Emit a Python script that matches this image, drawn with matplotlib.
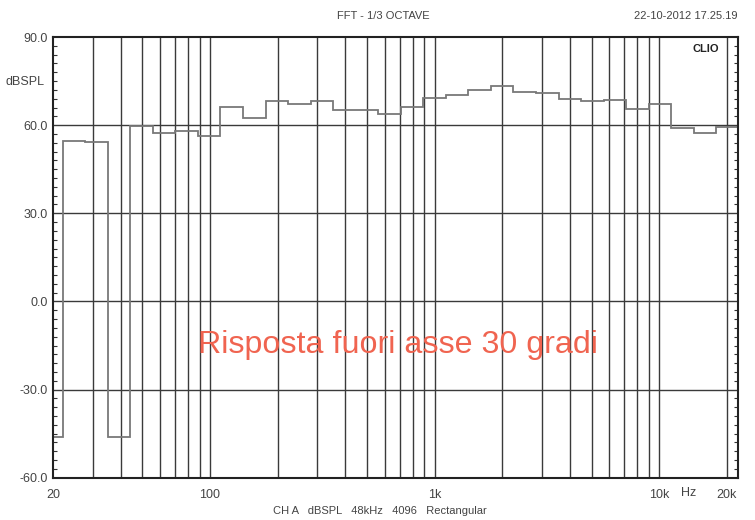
import numpy as np
import matplotlib
matplotlib.use("Agg")
import matplotlib.pyplot as plt

# 1/3 octave band centres (Hz) and levels (dBSPL)
centers = [20, 25, 31.5, 40, 50, 63, 80, 100, 125, 160, 200, 250, 315, 400, 500,
           630, 800, 1000, 1250, 1600, 2000, 2500, 3150, 4000, 5000, 6300, 8000,
           10000, 12500, 16000, 20000]
levels = [-46.0, 54.6, 54.2, -46.0, 59.8, 57.4, 57.9, 56.3, 66.2, 62.6, 68.2, 67.3,
          68.2, 65.0, 65.3, 63.8, 66.2, 69.1, 70.1, 71.9, 73.5, 71.3, 70.9, 69.0,
          68.2, 68.6, 65.4, 67.1, 59.0, 57.4, 59.4]

y_ticks = [-60, -30, 0, 30, 60, 90]
x_label_ticks = [20, 100, 1000, 10000, 20000]
x_label_text = ["20", "100", "1k", "10k", "20k"]

# band edges from the exact third-octave centres
n = np.round(3 * np.log2(np.array(centers) / 1000.0))
fc = 1000.0 * 2 ** (n / 3)
edges = np.concatenate([fc * 2 ** (-1 / 6), [fc[-1] * 2 ** (1 / 6)]])

plt.rcParams["font.family"] = ["Liberation Sans", "DejaVu Sans"]

fig = plt.figure(figsize=(7.55, 5.2), dpi=100)
ax = fig.add_axes([0.0702, 0.0813, 0.9073, 0.8475])

# grid
grid_x = [m * 10 ** d for d in range(1, 5) for m in range(1, 10)]
grid_x = [g for g in grid_x if 20 < g <= 20000]
for g in grid_x:
    ax.axvline(g, color="#3a3a3a", lw=1.0, zorder=1)
for yv in y_ticks[1:-1]:
    ax.axhline(yv, color="#3a3a3a", lw=1.0, zorder=1)

ax.stairs(levels, edges, baseline=None, color="#787878", lw=1.3, zorder=2)

ax.set_xscale("log")
ax.set_xlim(20, 22440)
ax.set_ylim(-60, 90)

ax.set_xticks(x_label_ticks)
ax.set_xticklabels(x_label_text)
ax.xaxis.set_minor_locator(matplotlib.ticker.NullLocator())
ax.tick_params(axis="x", length=0, pad=8, labelsize=9, labelcolor="#444444")

ax.set_yticks(y_ticks)
ax.set_yticklabels([f"{v:.1f}" for v in y_ticks])
ax.set_yticks(np.arange(-60, 91, 3), minor=True)
ax.tick_params(axis="y", which="major", length=0, pad=4, labelsize=9, labelcolor="#444444")
ax.tick_params(axis="y", which="minor", direction="in", length=3, width=0.8,
               left=True, right=True, color="#333333")

for s in ax.spines.values():
    s.set_linewidth(1.5)
    s.set_color("#222222")

ax.text(-0.012, 0.898, "dBSPL", transform=ax.transAxes, ha="right", va="center",
        fontsize=9, color="#444444")
ax.text(0.973, 0.985, "CLIO", transform=ax.transAxes, ha="right", va="top",
        fontsize=8, fontweight="bold", color="#222222",
        bbox=dict(facecolor="white", edgecolor="none", pad=1.5), zorder=5)
ax.text(0.503, 0.302, "Risposta fuori asse 30 gradi", transform=ax.transAxes,
        ha="center", va="center", fontsize=23.2, color="#f06450", zorder=6)

fig.text(383 / 755, 1 - 16 / 520, "FFT - 1/3 OCTAVE", ha="center", va="center",
         fontsize=8, color="#444444")
fig.text(738 / 755, 1 - 16 / 520, "22-10-2012 17.25.19", ha="right", va="center",
         fontsize=8, color="#444444")
fig.text(689 / 755, 1 - 493 / 520, "Hz", ha="center", va="center",
         fontsize=9, color="#444444")
fig.text(380 / 755, 1 - 511 / 520, "CH A   dBSPL   48kHz   4096   Rectangular",
         ha="center", va="center", fontsize=8, color="#444444")

fig.savefig("out.png", dpi=100)
